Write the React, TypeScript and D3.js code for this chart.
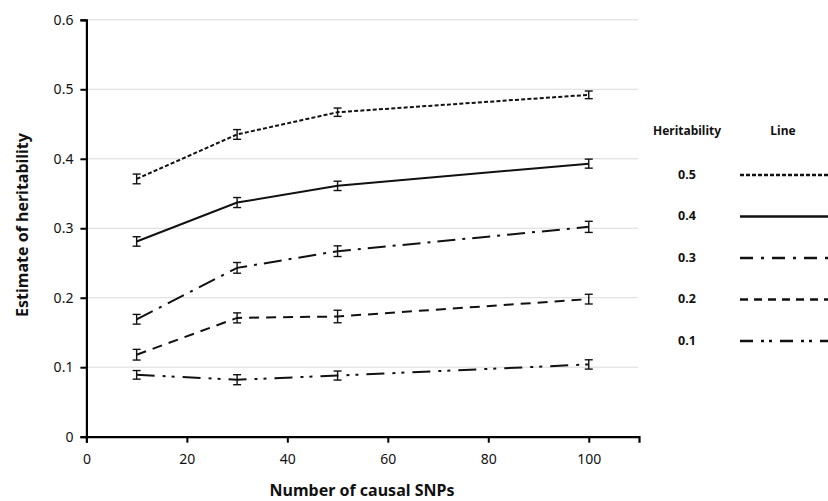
import React, { useEffect, useRef } from 'react';
import * as d3 from 'd3';

// Number of causal SNPs (x) and the simulated heritability of each line
const snps = [10, 30, 50, 100];
const heritabilities = ['0.5', '0.4', '0.3', '0.2', '0.1'];

// Mean estimate of heritability and its error for each line
const est05 = [0.371, 0.435, 0.467, 0.492];
const err05 = [0.007, 0.007, 0.006, 0.0055];
const est04 = [0.281, 0.337, 0.361, 0.393];
const err04 = [0.0068, 0.0072, 0.0067, 0.0065];
const est03 = [0.169, 0.243, 0.267, 0.302];
const err03 = [0.007, 0.0077, 0.0077, 0.008];
const est02 = [0.118, 0.171, 0.173, 0.198];
const err02 = [0.0077, 0.0072, 0.009, 0.007];
const est01 = [0.089, 0.082, 0.088, 0.104];
const err01 = [0.0062, 0.0072, 0.0065, 0.0067];

const xTicks = [0, 20, 40, 60, 80, 100];
const yTicks = [0, 0.1, 0.2, 0.3, 0.4, 0.5, 0.6];

// line styles, one per heritability
const plotDash = ['4,2.2', null, '18,7,3,7', '10,7', '18,8,3,6,3,8'];
const legendDash = ['4,2', null, '13,8,3,8', '8,6', '13,8,3,5,3,8'];

const App = () => {
  const ref = useRef<SVGSVGElement>(null);

  useEffect(() => {
    const width = 828;
    const svg = d3.select(ref.current);
    svg.selectAll('*').remove();

    const font = '"Noto Sans", "Open Sans", sans-serif';
    const left = 86.4;
    const bottom = 436.7;

    const x = d3.scaleLinear().domain([0, 110]).range([left, 639]);
    const y = d3.scaleLinear().domain([0, 0.6]).range([bottom, 19.8]);

    const series = [
      { h: heritabilities[0], est: est05, err: err05 },
      { h: heritabilities[1], est: est04, err: err04 },
      { h: heritabilities[2], est: est03, err: err03 },
      { h: heritabilities[3], est: est02, err: err02 },
      { h: heritabilities[4], est: est01, err: err01 }
    ];

    // gridlines
    svg.append('g')
      .selectAll('line')
      .data(yTicks.slice(1))
      .enter()
      .append('line')
      .attr('x1', left)
      .attr('x2', 638)
      .attr('y1', d => y(d))
      .attr('y2', d => y(d))
      .attr('stroke', '#dadada')
      .attr('stroke-width', 1);

    // Y axis
    const yAxis = svg.append('g')
      .attr('transform', `translate(${left},0)`)
      .call(d3.axisLeft(y).tickValues(yTicks).tickSize(6).tickPadding(7)
        .tickFormat(d => (d === 0 ? '0' : d3.format('.1f')(d as number))));
    yAxis.select('.domain').attr('stroke', '#000').attr('stroke-width', 2.2);
    yAxis.selectAll('.tick line').attr('stroke', '#000').attr('stroke-width', 2);
    yAxis.selectAll('text')
      .attr('font-family', font)
      .attr('font-size', '14px')
      .attr('fill', '#111');

    // X axis
    const xAxis = svg.append('g')
      .attr('transform', `translate(0,${bottom})`)
      .call(d3.axisBottom(x).tickValues(xTicks).tickSize(6).tickPadding(11));
    xAxis.select('.domain').attr('stroke', '#000').attr('stroke-width', 2.2);
    xAxis.selectAll('.tick line').attr('stroke', '#000').attr('stroke-width', 2);
    xAxis.selectAll('text')
      .attr('font-family', font)
      .attr('font-size', '14px')
      .attr('fill', '#111');

    // Axis titles
    svg.append('text')
      .attr('transform', 'rotate(-90)')
      .attr('x', -225)
      .attr('y', 28)
      .attr('text-anchor', 'middle')
      .attr('font-family', font)
      .attr('font-size', '16px')
      .attr('font-weight', 'bold')
      .attr('fill', '#111')
      .text('Estimate of heritability');

    svg.append('text')
      .attr('x', 362)
      .attr('y', 496)
      .attr('text-anchor', 'middle')
      .attr('font-family', font)
      .attr('font-size', '16px')
      .attr('font-weight', 'bold')
      .attr('fill', '#111')
      .text('Number of causal SNPs');

    // lines
    const line = d3.line<number>()
      .x((_, i) => x(snps[i]))
      .y(d => y(d));

    series.forEach((s, si) => {
      const g = svg.append('g');
      g.append('path')
        .datum(s.est)
        .attr('d', line)
        .attr('fill', 'none')
        .attr('stroke', '#111')
        .attr('stroke-width', 2)
        .attr('stroke-dasharray', plotDash[si]);

      // error bars
      const bars = g.selectAll('.err')
        .data(s.est.map((v, i) => ({ x: snps[i], v, e: s.err[i] })))
        .enter()
        .append('g')
        .attr('class', 'err');
      bars.append('line')
        .attr('x1', d => x(d.x)).attr('x2', d => x(d.x))
        .attr('y1', d => y(d.v - d.e)).attr('y2', d => y(d.v + d.e))
        .attr('stroke', '#111').attr('stroke-width', 1.4);
      [-1, 1].forEach(sign => {
        bars.append('line')
          .attr('x1', d => x(d.x) - 4).attr('x2', d => x(d.x) + 4)
          .attr('y1', d => y(d.v + sign * d.e)).attr('y2', d => y(d.v + sign * d.e))
          .attr('stroke', '#111').attr('stroke-width', 1.4);
      });
    });

    // Legend table
    const legend = svg.append('g');
    legend.append('text')
      .attr('x', 687).attr('y', 135)
      .attr('text-anchor', 'middle')
      .attr('font-family', font).attr('font-size', '12px').attr('font-weight', 'bold')
      .attr('fill', '#111')
      .text('Heritability');
    legend.append('text')
      .attr('x', 783).attr('y', 135)
      .attr('text-anchor', 'middle')
      .attr('font-family', font).attr('font-size', '12px').attr('font-weight', 'bold')
      .attr('fill', '#111')
      .text('Line');

    const rowY = d3.scalePoint().domain(heritabilities).range([174, 340]);
    heritabilities.forEach((h, i) => {
      const yy = rowY(h) as number;
      legend.append('text')
        .attr('x', 687).attr('y', yy + 4.5)
        .attr('text-anchor', 'middle')
        .attr('font-family', font).attr('font-size', '12.5px').attr('font-weight', 'bold')
        .attr('fill', '#111')
        .text(h);
      legend.append('line')
        .attr('x1', 740).attr('x2', width + 4)
        .attr('y1', yy + 1).attr('y2', yy + 1)
        .attr('stroke', '#111')
        .attr('stroke-width', 2.6)
        .attr('stroke-dasharray', legendDash[i]);
    });
  }, []);

  return (
    <svg
      ref={ref}
      width={828}
      height={501}
      style={{ position: 'absolute', left: 0, top: 0, background: '#fff' }}
    />
  );
};

export default App;
